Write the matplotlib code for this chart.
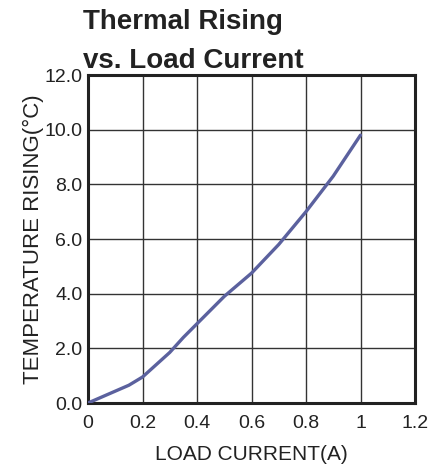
import matplotlib.pyplot as plt

plt.rcParams['font.family'] = ['Liberation Sans', 'DejaVu Sans']

current = [0, 0.15, 0.2, 0.3, 0.35, 0.4, 0.5, 0.6, 0.7, 0.8, 0.9, 1.0]
temp_rise = [0, 0.65, 0.95, 1.85, 2.4, 2.9, 3.9, 4.75, 5.8, 7.0, 8.3, 9.8]

x_ticks = [0, 0.2, 0.4, 0.6, 0.8, 1.0, 1.2]
x_labels = ["0", "0.2", "0.4", "0.6", "0.8", "1", "1.2"]
y_ticks = [0, 2, 4, 6, 8, 10, 12]
y_labels = ["0.0", "2.0", "4.0", "6.0", "8.0", "10.0", "12.0"]

fig = plt.figure(figsize=(4.4, 4.66), dpi=100)
ax = fig.add_axes([88 / 440, 1 - 403 / 466, 327 / 440, 328 / 466])

ax.plot(current, temp_rise, color='#5b619e', linewidth=2.4, solid_capstyle='round', zorder=3)

ax.set_xlim(0, 1.2)
ax.set_ylim(0, 12)
ax.set_xticks(x_ticks)
ax.set_xticklabels(x_labels)
ax.set_yticks(y_ticks)
ax.set_yticklabels(y_labels)
ax.tick_params(axis='both', length=0, labelsize=14, colors='#222222')
ax.tick_params(axis='x', pad=9)
ax.tick_params(axis='y', pad=4)
ax.grid(True, color='#333333', linewidth=1.0)
ax.set_axisbelow(True)
for s in ax.spines.values():
    s.set_linewidth(2.2)
    s.set_color('#222222')

ax.set_xlabel("LOAD CURRENT(A)", fontsize=15, color='#222222', labelpad=9)
ax.set_ylabel("TEMPERATURE RISING(°C)", fontsize=16, color='#222222')
ax.yaxis.set_label_coords((44 - 88) / 327, 0.5)

fig.text(83 / 440, 1 - 29 / 466, "Thermal Rising", fontsize=20, fontweight='bold',
         color='#222222', va='baseline', ha='left')
fig.text(83 / 440, 1 - 68 / 466, "vs. Load Current", fontsize=20, fontweight='bold',
         color='#222222', va='baseline', ha='left')

fig.savefig("out.png", dpi=100)
